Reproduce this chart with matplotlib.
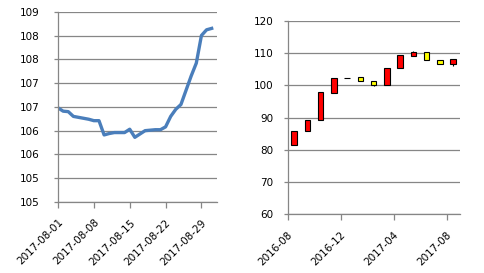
import numpy as np
import pandas as pd
import matplotlib
matplotlib.use('Agg')
import matplotlib.pyplot as plt

# daily series, Aug 2017
rate = [106.98, 106.91, 106.90, 106.80, 106.78, 106.76, 106.74, 106.71, 106.71,
        106.41, 106.44, 106.46, 106.46, 106.46, 106.53, 106.36, 106.43, 106.50,
        106.51, 106.52, 106.52, 106.58, 106.80, 106.95, 107.05, 107.35, 107.65,
        107.92, 108.50, 108.62, 108.65]
start_day = '2017-08-01'
y1_ticks = [105, 105.5, 106, 106.5, 107, 107.5, 108, 108.5, 109]
y1_labels = ['105', '105', '106', '106', '107', '107', '108', '108', '109']
x1_ticks = ['2017-08-01', '2017-08-08', '2017-08-15', '2017-08-22', '2017-08-29']

# monthly candles
months = ['2016-08', '2016-09', '2016-10', '2016-11', '2016-12', '2017-01', '2017-02',
          '2017-03', '2017-04', '2017-05', '2017-06', '2017-07', '2017-08']
opens = [81.5, 85.7, 89.1, 97.7, 102.3, 102.5, 101.3, 100.2, 105.2, 109.2, 110.2, 107.7, 106.5]
closes = [85.7, 89.3, 97.8, 102.2, 102.4, 101.2, 100.2, 105.3, 109.4, 110.4, 107.7, 106.5, 108.0]
highs = [85.7, 89.3, 97.8, 102.2, 102.4, 102.5, 101.3, 105.3, 109.4, 110.6, 110.2, 107.7, 108.0]
lows = [81.5, 85.7, 89.1, 97.7, 102.3, 101.2, 99.9, 100.2, 105.2, 109.2, 107.7, 106.5, 105.9]
x2_ticks = ['2016-08', '2016-12', '2017-04', '2017-08']

grid_col = '#868686'
fs = 7.5

fig = plt.figure(figsize=(4.85, 2.73), dpi=100)
ax1 = fig.add_axes([0.1196, 0.26, 0.3274, 0.697])
ax2 = fig.add_axes([0.593, 0.215, 0.355, 0.709])

for ax in (ax1, ax2):
    for s in ('top', 'right'):
        ax.spines[s].set_visible(False)
    for s in ('left', 'bottom'):
        ax.spines[s].set_color(grid_col)
        ax.spines[s].set_linewidth(0.9)
    ax.grid(axis='y', color=grid_col, linewidth=0.9)
    ax.set_axisbelow(True)
    ax.tick_params(axis='both', colors=grid_col, labelcolor='black', labelsize=fs,
                   width=0.9, direction='out')
    ax.tick_params(axis='x', length=4, pad=7)
    ax.tick_params(axis='y', length=3)

ax1.tick_params(axis='y', pad=10)
ax2.tick_params(axis='y', pad=7)

# left: line chart
days = pd.date_range(start_day, periods=len(rate), freq='D')
ax1.plot(days, rate, color='#4A7EBB', linewidth=2.4, solid_joinstyle='round')
ax1.set_ylim(105, 109)
ax1.set_yticks(y1_ticks)
ax1.set_yticklabels(y1_labels)
ax1.set_xlim(pd.Timestamp(start_day), pd.Timestamp('2017-09-01'))
ax1.set_xticks([pd.Timestamp(t) for t in x1_ticks])
ax1.set_xticklabels(x1_ticks, rotation=45, ha='right', va='top', rotation_mode='anchor')

# right: candlesticks
xs = np.arange(len(months)) + 0.5
o = np.array(opens)
c = np.array(closes)
cols = ['#FF0000' if cc >= oo else '#FFFF00' for oo, cc in zip(o, c)]
ax2.vlines(xs, lows, highs, color='black', linewidth=0.8, zorder=2)
ax2.bar(xs, c - o, bottom=o, width=0.42, color=cols, edgecolor='black',
        linewidth=0.8, zorder=3)
ax2.set_ylim(60, 120)
ax2.set_yticks(range(60, 121, 10))
ax2.set_xlim(0, len(months))
ax2.set_xticks([months.index(m) for m in x2_ticks])
ax2.set_xticklabels(x2_ticks, rotation=45, ha='right', va='top', rotation_mode='anchor')

fig.savefig('out.png', dpi=100)
